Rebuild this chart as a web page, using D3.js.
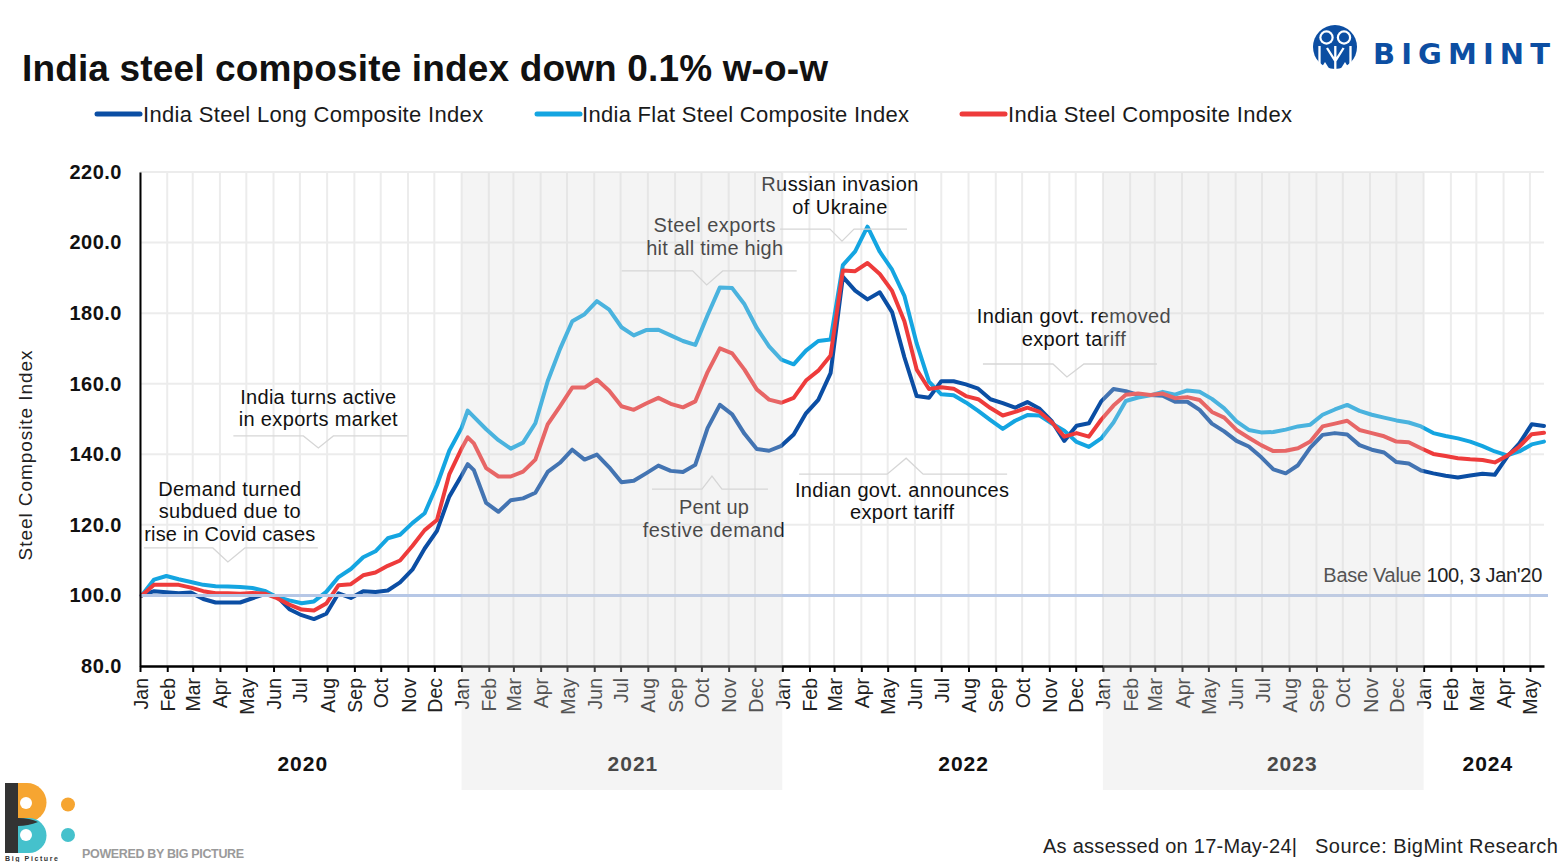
<!DOCTYPE html>
<html><head><meta charset="utf-8">
<script src="https://cdn.jsdelivr.net/npm/d3@7"></script>
<style>
body{margin:0;background:#fff;}
svg{display:block;font-family:"Liberation Sans",Arial,sans-serif;}
</style>
</head><body>
<svg id="c" width="1565" height="862"></svg>
<script>
// ---------------- DATA ----------------
const dates = [
"2020-01-03","2020-01-17","2020-01-31","2020-02-14","2020-02-28","2020-03-13","2020-03-27","2020-04-10","2020-04-24","2020-05-08",
"2020-05-22","2020-06-05","2020-06-19","2020-07-03","2020-07-17","2020-07-31","2020-08-14","2020-08-28","2020-09-11","2020-09-25",
"2020-10-09","2020-10-23","2020-11-06","2020-11-20","2020-12-04","2020-12-18",
"2021-01-01","2021-01-08","2021-01-15","2021-01-29","2021-02-12","2021-02-26","2021-03-12","2021-03-26","2021-04-09","2021-04-23",
"2021-05-07","2021-05-21","2021-06-04","2021-06-18","2021-07-02","2021-07-16","2021-07-30","2021-08-13","2021-08-27","2021-09-10",
"2021-09-24","2021-10-08","2021-10-22","2021-11-05","2021-11-19","2021-12-03","2021-12-17","2021-12-31",
"2022-01-14","2022-01-28","2022-02-11","2022-02-25","2022-03-11","2022-03-25","2022-04-08","2022-04-22","2022-05-06","2022-05-20",
"2022-06-03","2022-06-17","2022-07-01","2022-07-15","2022-07-29","2022-08-12","2022-08-26","2022-09-09","2022-09-23","2022-10-07",
"2022-10-21","2022-11-04","2022-11-18","2022-12-02","2022-12-16","2022-12-30",
"2023-01-13","2023-01-27","2023-02-10","2023-02-24","2023-03-10","2023-03-24","2023-04-07","2023-04-21","2023-05-05","2023-05-19",
"2023-06-02","2023-06-16","2023-06-30","2023-07-14","2023-07-28","2023-08-11","2023-08-25","2023-09-08","2023-09-22","2023-10-06",
"2023-10-20","2023-11-03","2023-11-17","2023-12-01","2023-12-15","2023-12-29",
"2024-01-12","2024-01-26","2024-02-09","2024-02-23","2024-03-08","2024-03-22","2024-04-05","2024-04-19","2024-05-03","2024-05-17"
];
const longIndex = [
100.0,101.2,100.9,100.6,100.8,99.0,98.0,98.0,98.0,99.2,
100.4,99.7,96.1,94.4,93.3,94.8,100.6,99.3,101.2,101.0,
101.4,103.7,107.3,113.3,118.3,128.0,
134.0,137.2,135.5,126.2,123.7,127.0,127.5,129.1,135.0,137.6,
141.3,138.5,139.9,136.3,132.1,132.5,134.6,136.8,135.3,135.0,
137.0,147.4,154.0,151.3,145.8,141.5,141.0,142.4,
145.6,151.6,155.4,163.0,190.3,186.4,183.9,185.9,180.3,167.5,
156.5,156.0,160.7,160.7,159.8,158.6,155.6,154.5,153.2,154.8,
152.9,149.3,143.8,148.1,148.8,155.0,
158.5,157.9,156.8,156.8,156.6,154.9,154.9,152.6,148.7,146.5,
143.8,142.2,139.2,135.7,134.6,136.9,141.9,145.5,146.0,145.6,
142.6,141.3,140.5,137.8,137.4,135.4,
134.6,133.9,133.4,134.0,134.5,134.2,139.3,143.1,148.5,148.0
];
const flatIndex = [
100.0,104.5,105.5,104.6,103.8,103.0,102.6,102.5,102.4,102.1,
101.3,99.5,98.6,97.8,98.3,101.0,105.2,107.5,110.8,112.5,
116.2,117.2,120.5,123.3,131.3,141.0,
147.5,152.4,150.6,147.1,144.0,141.6,143.3,148.8,160.7,169.8,
177.7,179.7,183.4,181.0,176.0,173.7,175.2,175.3,173.7,172.1,
171.0,179.4,187.3,187.1,182.5,175.8,170.6,166.8,
165.5,169.4,172.1,172.5,193.6,197.5,204.5,197.4,192.3,184.9,
171.4,160.6,157.0,156.7,154.7,152.3,149.7,147.2,149.5,151.1,
151.0,148.7,146.7,143.5,142.1,144.5,
149.0,155.1,156.1,156.7,157.7,156.9,158.1,157.7,155.7,153.0,
149.3,146.9,146.2,146.3,147.0,147.9,148.4,151.2,152.7,154.0,
152.3,151.2,150.4,149.6,149.0,147.9,
146.0,145.2,144.5,143.6,142.3,140.8,139.7,140.8,142.8,143.6
];
const compositeIndex = [
100.0,103.0,103.0,103.0,102.2,101.2,100.6,100.6,100.5,100.7,
100.5,99.2,97.4,96.0,95.7,97.7,102.9,103.2,105.7,106.5,
108.4,109.9,114.0,118.5,121.4,134.3,
141.6,144.8,143.1,136.1,133.7,133.7,135.1,138.5,148.5,153.6,
158.9,158.9,161.2,158.0,153.6,152.6,154.4,156.0,154.3,153.3,
155.0,163.3,170.0,168.6,164.0,158.4,155.5,154.6,
156.0,160.9,163.7,168.0,192.1,191.9,194.2,191.1,186.3,177.7,
164.0,158.5,159.0,158.6,156.5,155.6,153.1,151.0,152.0,153.2,
152.0,149.0,145.0,146.0,145.0,149.8,
153.8,156.9,157.2,156.8,157.2,155.9,156.2,155.4,152.0,150.4,
146.9,144.7,142.6,140.9,141.0,141.7,143.6,147.9,148.7,149.5,
146.9,146.0,145.1,143.6,143.4,141.7,
140.1,139.5,138.9,138.6,138.4,137.7,139.6,142.2,145.7,146.1
];
const seriesNames = ["India Steel Long Composite Index","India Flat Steel Composite Index","India Steel Composite Index"];
const baseValue = 100;
const yTicks = [80,100,120,140,160,180,200,220];
const monthLabels = ["Jan","Feb","Mar","Apr","May","Jun","Jul","Aug","Sep","Oct","Nov","Dec"];
const years = [2020,2021,2022,2023,2024];
const shadedYears = [2021,2023];
const annotationTexts = [
  ["Demand turned","subdued due to","rise in Covid cases"],
  ["India turns active","in exports market"],
  ["Steel exports","hit all time high"],
  ["Russian invasion","of Ukraine"],
  ["Indian govt. removed","export tariff"],
  ["Pent up","festive demand"],
  ["Indian govt. announces","export tariff"]
];
const annotationDates = ["2020-04-10","2020-07-22","2021-10-07","2022-03-10","2022-11-21","2021-10-13","2022-05-22"];
const annotationValues = [109.5,141.8,188.0,200.4,161.9,133.8,138.9];

// ---------------- CHART ----------------
const svg = d3.select("#c");
const parse = d3.timeParse("%Y-%m-%d");
const D = dates.map(parse);
const x = d3.scaleTime().domain([new Date(2020,0,1), new Date(2024,4,17)]).range([140,1544]);
const y = d3.scaleLinear().domain([80,220]).range([666,172]);
const colors = ["#0b4ea4","#14a5e1","#ee3b3b"];

function fit(sel, w){
  sel.each(function(){
    const n = this.getComputedTextLength();
    const len = this.textContent.length;
    if (len > 1) d3.select(this).attr("letter-spacing", ((w - n) / (len - 1)).toFixed(2));
  });
}

// gridlines
const months = d3.timeMonth.range(new Date(2020,0,1), new Date(2024,4,18));
svg.append("g").selectAll("line").data(months).join("line")
  .attr("x1", d=>x(d)).attr("x2", d=>x(d)).attr("y1", y(220)).attr("y2", y(80))
  .attr("stroke","#ececec").attr("stroke-width",2);
svg.append("g").selectAll("line").data(yTicks.filter(v=>v>80)).join("line")
  .attr("x1", 140).attr("x2", 1544).attr("y1", d=>y(d)).attr("y2", d=>y(d))
  .attr("stroke","#ececec").attr("stroke-width",2);

// series
const line = d3.line().x((d,i)=>x(D[i])).y(d=>y(d));
[longIndex, flatIndex, compositeIndex].forEach((vals,k)=>{
  svg.append("path").attr("d", line(vals)).attr("fill","none")
    .attr("stroke", colors[k]).attr("stroke-width",4).attr("stroke-linejoin","round").attr("stroke-linecap","round");
});

// base line
svg.append("line").attr("x1", x(D[0])-2).attr("x2", x(D[D.length-1])+4)
  .attr("y1", y(baseValue)).attr("y2", y(baseValue))
  .attr("stroke","#b6c7e6").attr("stroke-width",3);
svg.append("text").attr("x",1542).attr("y",582).attr("text-anchor","end")
  .attr("font-size",20).attr("fill","#222").text("Base Value 100, 3 Jan'20").call(fit,219);

// y axis
const yAxis = svg.append("g").attr("transform","translate(140,0)")
  .call(d3.axisLeft(y).tickValues(yTicks).tickSize(0).tickFormat(d3.format(".1f")));
yAxis.select(".domain").attr("stroke","#000").attr("stroke-width",2);
yAxis.selectAll("text").attr("x",-18).attr("font-size",20).attr("font-weight","bold")
  .attr("fill","#111").attr("font-family","Liberation Sans, Arial, sans-serif").attr("letter-spacing",0.5);

// x axis
const xAxis = svg.append("g").attr("transform","translate(0,666)")
  .call(d3.axisBottom(x).ticks(d3.timeMonth.every(1)).tickSizeInner(6).tickSizeOuter(0)
    .tickFormat(d=>monthLabels[d.getMonth()]));
xAxis.select(".domain").attr("stroke","#000").attr("stroke-width",2.5);
xAxis.selectAll(".tick line").attr("stroke","#000").attr("stroke-width",2);
xAxis.selectAll("text").attr("transform","rotate(-90)").attr("x",-12).attr("y",0).attr("dy","0.36em")
  .style("text-anchor","end").attr("font-size",19.5).attr("fill","#222")
  .attr("font-family","Liberation Sans, Arial, sans-serif");

// y axis title
svg.append("text").attr("transform","translate(32,455) rotate(-90)").attr("text-anchor","middle")
  .attr("font-size",19).attr("fill","#222").text("Steel Composite Index").call(fit,210);

// year labels
const yearShift = [2, 11, 21, 29, 4];
svg.append("g").selectAll("text").data(years).join("text")
  .attr("x", (d,i)=>(x(new Date(d,0,1)) + Math.min(x(new Date(d+1,0,1)), 1544))/2 + yearShift[i])
  .attr("y", 771).attr("text-anchor","middle").attr("font-size",21).attr("font-weight","bold")
  .attr("fill","#111").attr("letter-spacing",1).text(d=>d);

// annotations
const annLayout = [
  {dir:-1, nh:14, l:-84, r:90, nl:-15, nr:17, cx:2,  base:-7,    w:[143,142,171]},
  {dir:-1, nh:12, l:-85, r:89, nl:-15, nr:15, cx:0,  base:-9.5,  w:[156,159]},
  {dir:-1, nh:14, l:-85, r:90, nl:-14, nr:16, cx:8,  base:-16,   w:[122,137]},
  {dir:-1, nh:12, l:-62, r:65, nl:-12, nr:12, cx:-2, base:-15.5, w:[157,95]},
  {dir:-1, nh:13, l:-84, r:90, nl:-14, nr:17, cx:7,  base:-18.3, w:[194,104]},
  {dir:1,  nh:13, l:-60, r:56, nl:-10, nr:10, cx:2,  base:25,    w:[70,142]},
  {dir:1,  nh:16, l:-107,r:101,nl:-19, nr:17, cx:-4, base:22.7,  w:[214,104]}
];
const ag = svg.append("g");
annotationTexts.forEach((lines,i)=>{
  const L = annLayout[i];
  const tx = x(parse(annotationDates[i])), ty = y(annotationValues[i]);
  const ly = ty + L.dir*L.nh;
  ag.append("path").attr("d",`M${tx+L.l},${ly}H${tx+L.nl}L${tx},${ty}L${tx+L.nr},${ly}H${tx+L.r}`)
    .attr("fill","none").attr("stroke","#d6d6d6").attr("stroke-width",1.3);
  lines.forEach((t,j)=>{
    const by = L.dir<0 ? ly + L.base - (lines.length-1-j)*22.5 : ly + L.base + j*22.5;
    ag.append("text").attr("x", tx+L.cx).attr("y", by).attr("text-anchor","middle")
      .attr("font-size",20).attr("fill","#111").text(t).call(fit, L.w[j]);
  });
});

// shaded year overlays
svg.append("g").selectAll("rect").data(shadedYears).join("rect")
  .attr("x", d=>x(new Date(d,0,1))).attr("width", d=>x(new Date(d+1,0,1))-x(new Date(d,0,1)))
  .attr("y", 172).attr("height", 618).attr("fill","rgb(214,214,214)").attr("opacity",0.28);

// title
svg.append("text").attr("x",22).attr("y",81).attr("font-size",37).attr("font-weight","bold")
  .attr("fill","#111").text("India steel composite index down 0.1% w-o-w").call(fit,806);

// legend
const legX = [[97,140,143,340],[537,580,582,327],[962,1005,1008,284]];
seriesNames.forEach((n,k)=>{
  const [a,b,tx,w] = legX[k];
  svg.append("line").attr("x1",a).attr("x2",b).attr("y1",114).attr("y2",114)
    .attr("stroke",colors[k]).attr("stroke-width",5).attr("stroke-linecap","round");
  svg.append("text").attr("x",tx).attr("y",121.5).attr("font-size",22).attr("fill","#1a1a1a").text(n).call(fit,w);
});

// BigMint logo
const lg = svg.append("g");
const blue = "#0c4ea2";
lg.append("circle").attr("cx",1335).attr("cy",47).attr("r",22).attr("fill",blue);
[[1326.5,37.5],[1344,37.5]].forEach(([cx,cy])=>{
  lg.append("circle").attr("cx",cx).attr("cy",cy).attr("r",7.2).attr("fill","#fff");
  lg.append("circle").attr("cx",cx).attr("cy",cy).attr("r",5).attr("fill",blue);
});
lg.append("path").attr("d","M1319.5,46V66M1335.3,46V71M1350.5,46V66M1327,48L1335.3,61L1343.6,48")
  .attr("stroke","#fff").attr("stroke-width",2.3).attr("fill","none");
lg.append("path").attr("d","M1320,70L1325,62L1330,70Z M1340,70L1345,62L1350,70Z").attr("fill","#fff");
lg.append("text").attr("x",1373).attr("y",63.5).attr("font-size",29).attr("font-weight","bold")
  .attr("font-family","DejaVu Sans, Verdana, sans-serif")
  .attr("fill",blue).text("BIGMINT").call(fit,177);

// Big Picture logo
const bp = svg.append("g");
bp.append("path").attr("d","M5,783H27A19.5,19.5 0 0 1 27,822H5Z").attr("fill","#f6a531");
bp.append("path").attr("d","M5,818H29A17.5,17.5 0 0 1 29,853H5Z").attr("fill","#45c1cc");
bp.append("path").attr("d","M5,783H18V818Q30,818 38,822Q28,826 18,826V853H5Z").attr("fill","#333");
bp.append("circle").attr("cx",26).attr("cy",803).attr("r",6).attr("fill","#fff");
bp.append("circle").attr("cx",26).attr("cy",835).attr("r",6).attr("fill","#fff");
bp.append("circle").attr("cx",68).attr("cy",804.5).attr("r",7).attr("fill","#f6a531");
bp.append("circle").attr("cx",68).attr("cy",835).attr("r",7).attr("fill","#45c1cc");
bp.append("text").attr("x",5).attr("y",861).attr("font-size",7).attr("font-weight","bold")
  .attr("fill","#333").attr("letter-spacing",1.6).text("Big Picture");
bp.append("text").attr("x",82).attr("y",858).attr("font-size",12.5).attr("font-weight","bold")
  .attr("fill","#9a9a9a").text("POWERED BY BIG PICTURE").call(fit,162);

// footer
svg.append("text").attr("x",1043).attr("y",853).attr("font-size",20).attr("fill","#222")
  .text("As assessed on 17-May-24|").call(fit,254);
svg.append("text").attr("x",1315).attr("y",853).attr("font-size",20).attr("fill","#222")
  .text("Source: BigMint Research").call(fit,243);
</script>
</body></html>
